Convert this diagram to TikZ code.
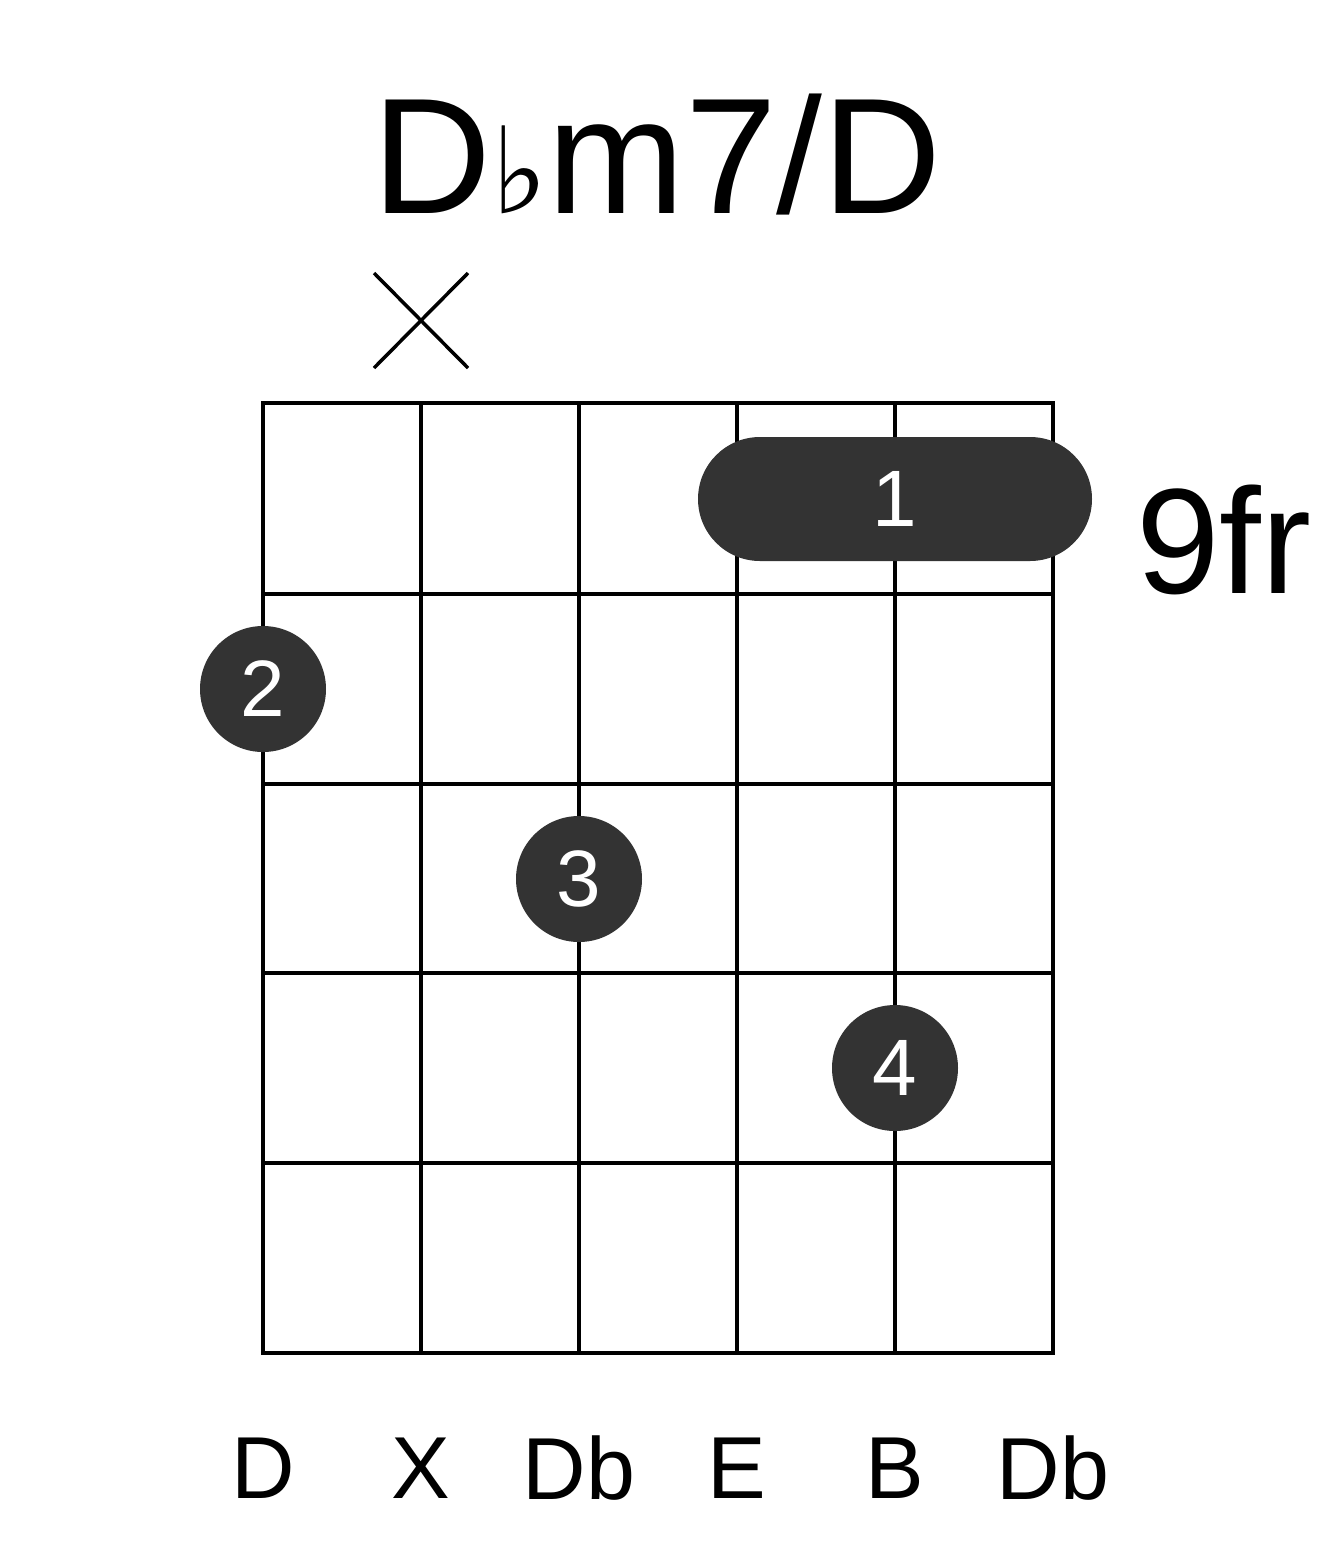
\documentclass[tikz,border=0pt]{standalone}
\usepackage{fontspec}
\setmainfont{Liberation Sans}
\newfontfamily\dvs{DejaVu Sans}
\begin{document}
\begin{tikzpicture}[x=1pt,y=-1pt,
  fing/.style={circle,fill=dotc,minimum size=126pt,inner sep=0pt,text=white,font=\fontsize{80}{80}\selectfont},
  lab/.style={font=\fontsize{88}{88}\selectfont}]
\definecolor{dotc}{HTML}{333333}
\useasboundingbox (0,0) rectangle (1317,1551);
\node (title) at (657,155) {\fontsize{165}{165}\selectfont D{\dvs\fontsize{120}{120}\selectfont ♭}m7/D};
\foreach \x in {263,421,579,737,895,1053} \draw[line width=4pt] (\x,403) -- (\x,1353);
\foreach \y in {403,594,784,973,1163,1353} \draw[line width=4pt] (263,\y) -- (1053,\y);
\draw[line width=4pt] (263,403) rectangle (1053,1353);
\draw[line width=3.5pt] (374,273) -- (468,368) (468,273) -- (374,368);
\fill[dotc,rounded corners=62pt] (698,437) rectangle (1092,561);
\node[text=white,font=\fontsize{80}{80}\selectfont] (b1) at (895,499) {1};
\node[fing] (f2) at (263,689) {2};
\node[fing] (f3) at (579,879) {3};
\node[fing] (f4) at (895,1068) {4};
\node[font=\fontsize{150}{150}\selectfont] (fr) at (1224,540) {9fr};
\foreach \x/\t in {263/D,421/X,579/Db,737/E,895/B,1053/Db} \node[lab] at (\x,1468) {\t};
\end{tikzpicture}
\end{document}
